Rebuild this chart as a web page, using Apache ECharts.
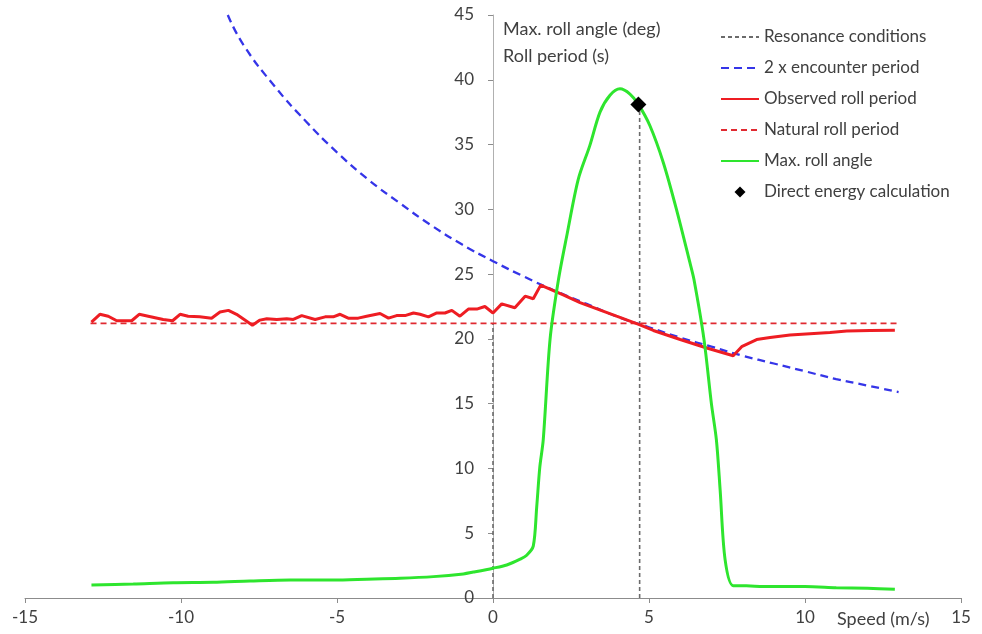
<!DOCTYPE html>
<html>
<head>
<meta charset="utf-8">
<script src="https://cdn.jsdelivr.net/npm/echarts@6/dist/echarts.min.js"></script>
<style>
html,body{margin:0;padding:0;background:#fff;}
#chart{width:982px;height:634px;}
</style>
</head>
<body>
<div id="chart"></div>
<script>
// ---- data ----
const xTicks = [-15, -10, -5, 0, 5, 10, 15];
const yTicks = [0, 5, 10, 15, 20, 25, 30, 35, 40, 45];

const resonanceA = [[0, 0], [0, 21.2]];
const resonanceB = [[4.7, 0], [4.7, 38.1]];

const encSpeed = [-8.5,-8,-7,-6,-5,-4,-3,-2,-1,0,1,2,3,4,5,6,7,8,9,10,11,12,13];
const encPeriod = [45.0,42.7,39.5,36.8,34.4,32.3,30.5,28.8,27.3,26.0,24.8,23.7,22.7,21.7,20.9,20.1,19.4,18.7,18.1,17.5,16.9,16.4,15.9];

const obsSpeed = [-12.87,-12.6,-12.33,-12.06,-11.8,-11.58,-11.34,-11.05,-10.57,-10.27,-10.03,-9.77,-9.4,-9.02,-8.75,-8.48,-8.22,-7.71,-7.47,-7.25,-6.93,-6.61,-6.4,-6.13,-5.7,-5.38,-5.12,-4.9,-4.64,-4.32,-4.05,-3.62,-3.35,-3.09,-2.82,-2.55,-2.34,-2.07,-1.8,-1.54,-1.32,-1.06,-0.79,-0.52,-0.26,0,0.28,0.7,1.03,1.29,1.53,2.25,2.79,3.96,4.69,5.14,6.0,6.85,7.7,7.97,8.45,8.88,9.52,10.16,10.8,11.34,12.08,12.88];
const obsPeriod = [21.3,21.9,21.75,21.4,21.4,21.4,21.9,21.75,21.5,21.4,21.9,21.75,21.7,21.6,22.07,22.2,21.9,21.06,21.45,21.55,21.5,21.55,21.5,21.8,21.5,21.7,21.7,21.9,21.6,21.6,21.75,21.96,21.6,21.8,21.8,22.0,21.9,21.7,22.0,22.0,22.2,21.75,22.3,22.3,22.5,22.0,22.7,22.4,23.3,23.1,24.15,23.4,22.8,21.75,21.1,20.65,19.95,19.3,18.7,19.4,19.95,20.1,20.3,20.4,20.5,20.6,20.65,20.67];

const natSpeed = [-12.9, 13.0];
const natPeriod = [21.2, 21.2];

const rollSpeed = [-12.87,-11.53,-10.25,-8.97,-7.79,-6.5,-5.12,-4.05,-2.98,-1.91,-0.95,-0.63,0,0.44,0.87,1.08,1.29,1.4,1.5,1.61,1.83,2.1,2.36,2.73,3.1,3.43,3.75,4.07,4.39,4.66,5.03,5.46,5.88,6.31,6.44,6.76,7.0,7.16,7.28,7.44,7.7,8.12,8.66,9.2,10,11,12,12.88];
const rollAngle = [1.0,1.08,1.18,1.21,1.31,1.39,1.39,1.45,1.52,1.65,1.86,2.0,2.3,2.55,3.0,3.3,4.0,7.0,10.1,12.2,20,24.6,27.9,32.3,34.9,37.5,38.8,39.3,38.9,38.1,36.45,33.6,30.0,25.9,24.6,20,15,12.2,8.35,2.94,0.95,0.95,0.88,0.88,0.88,0.8,0.75,0.67];

const energySpeed = [4.66];
const energyAngle = [38.1];

const zip = (a, b) => a.map((v, i) => [v, b[i]]);
const FONT = 'Lato';
const TXT = '#404040';
// legend diamond: small diamond centred in a 38x14 icon box (invisible move-to corners keep the box)
const DIAMOND_ICON = 'path://M0,0M38,14M19,1.5L24.5,7L19,12.5L13.5,7Z';

const chart = echarts.init(document.getElementById('chart'));
chart.setOption({
  animation: false,
  backgroundColor: '#fff',
  textStyle: { fontFamily: FONT },
  grid: { left: 25, right: 21, top: 15, bottom: 36, containLabel: false },
  xAxis: {
    type: 'value', min: xTicks[0], max: xTicks[xTicks.length - 1], interval: 5,
    axisLine: { onZero: false, lineStyle: { color: '#8c8c8c', width: 1 } },
    axisTick: { show: true, inside: false, length: 5, lineStyle: { color: '#8c8c8c' } },
    axisLabel: { color: TXT, fontSize: 17, fontFamily: FONT, margin: 11 },
    splitLine: { show: false }
  },
  yAxis: {
    type: 'value', position: 'left', offset: -468,
    min: yTicks[0], max: yTicks[yTicks.length - 1], interval: 5,
    axisLine: { show: true, onZero: false, lineStyle: { color: '#b0b0b0', width: 1 } },
    axisTick: { show: true, inside: false, length: 5, lineStyle: { color: '#8c8c8c' } },
    axisLabel: { color: TXT, fontSize: 17, fontFamily: FONT, margin: 19 },
    splitLine: { show: false }
  },
  legend: {
    orient: 'vertical', left: 720, top: 28, padding: 0, itemWidth: 38, itemHeight: 14, itemGap: 13,
    itemStyle: { opacity: 0 },
    textStyle: { color: TXT, fontSize: 17, fontFamily: FONT, lineHeight: 18 },
    data: ['Resonance conditions', '2 x encounter period', 'Observed roll period',
           'Natural roll period', 'Max. roll angle',
           { name: 'Direct energy calculation', icon: DIAMOND_ICON, itemStyle: { color: '#000', opacity: 1 } }]
  },
  graphic: [
    { type: 'text', left: 503, top: 20, style: { text: 'Max. roll angle (deg)', fill: TXT, font: '18px ' + FONT } },
    { type: 'text', left: 503, top: 47, style: { text: 'Roll period (s)', fill: TXT, font: '18px ' + FONT } },
    { type: 'text', left: 837, top: 610, style: { text: 'Speed (m/s)', fill: TXT, font: '18px ' + FONT } }
  ],
  series: [
    { name: 'Resonance conditions', type: 'line', data: resonanceA, symbol: 'none', z: 3,
      lineStyle: { color: '#6b6b6b', width: 1.6, type: [4, 3] }, itemStyle: { color: '#6b6b6b' } },
    { name: 'Resonance conditions', type: 'line', data: resonanceB, symbol: 'none', z: 3,
      lineStyle: { color: '#6b6b6b', width: 1.6, type: [4, 3] }, itemStyle: { color: '#6b6b6b' } },
    { name: '2 x encounter period', type: 'line', data: zip(encSpeed, encPeriod), symbol: 'none', smooth: true, z: 4,
      lineStyle: { color: '#3535e8', width: 2.3, type: [8, 5] }, itemStyle: { color: '#3535e8' } },
    { name: 'Observed roll period', type: 'line', data: zip(obsSpeed, obsPeriod), symbol: 'none', z: 6,
      lineStyle: { color: '#ee1d23', width: 3 }, itemStyle: { color: '#ee1d23' } },
    { name: 'Natural roll period', type: 'line', data: zip(natSpeed, natPeriod), symbol: 'none', z: 5,
      lineStyle: { color: '#e02a31', width: 1.8, type: [6, 4] }, itemStyle: { color: '#e02a31' } },
    { name: 'Max. roll angle', type: 'line', data: zip(rollSpeed, rollAngle), symbol: 'none', smooth: 0.3, z: 7,
      lineStyle: { color: '#2ee52e', width: 3 }, itemStyle: { color: '#2ee52e' } },
    { name: 'Direct energy calculation', type: 'scatter', data: zip(energySpeed, energyAngle), symbol: 'diamond', symbolSize: 16, z: 10,
      itemStyle: { color: '#000', opacity: 1 } }
  ]
});
</script>
</body>
</html>
